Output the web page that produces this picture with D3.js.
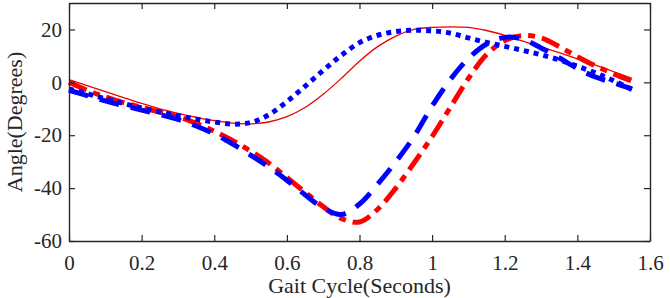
<!DOCTYPE html>
<html>
<head>
<meta charset="utf-8">
<script src="https://cdn.jsdelivr.net/npm/d3@7"></script>
<style>
  html, body { margin: 0; padding: 0; background: #fff; }
  svg { display: block; }
  text { font-family: "Liberation Serif", "Times New Roman", serif; fill: #262626; }
</style>
</head>
<body>
<div id="chart"></div>
<script>
// Gait cycle time (seconds)
const times = [0, 0.05, 0.1, 0.15, 0.2, 0.25, 0.3, 0.35, 0.4, 0.45, 0.5, 0.55, 0.6, 0.65, 0.7, 0.75,
  0.8, 0.85, 0.9, 0.95, 1.0, 1.05, 1.1, 1.15, 1.2, 1.25, 1.3, 1.35, 1.4, 1.45, 1.5, 1.55];

// angles (degrees)
const redSolid = [1, -1.2, -3.5, -5.8, -8, -10, -11.7, -13.2, -14.5, -15.4, -15.7, -15, -13, -9.5, -4.5, 1.5,
  8, 13.5, 17.5, 20, 20.8, 21, 20.8, 19.6, 17.8, 15.6, 13.4, 11.2, 8.9, 6.5, 4, 1.5];
const redDashDot = [0, -3, -5.5, -7.7, -9.5, -11.2, -13, -15.5, -18.5, -22, -26, -30.5, -36, -41.5, -47, -51.5,
  -52.8, -48, -40, -30.5, -20.5, -9.5, 1.5, 10.5, 15.8, 17.7, 16.8, 13.5, 9.7, 6.2, 3.2, 0.5];
const blueDotted = [-2.5, -4.3, -6.2, -8, -9.7, -11.2, -12.6, -13.9, -15, -15.8, -15.2, -12.3, -7.3, -1.5, 4.5, 10.2,
  15, 17.8, 19.2, 19.7, 19.5, 18.6, 16.8, 15.1, 13.6, 12.1, 10.4, 8.5, 6.1, 3.6, 0.6, -2.7];
const blueDashed = [-3, -5, -7, -8.8, -10.5, -12.2, -14, -16.5, -19.5, -23.3, -27.5, -32, -37, -42.5, -47.5, -50,
  -46, -38.5, -30, -20.5, -9, 1, 9, 14.5, 17, 16.3, 13, 9.3, 5.2, 2, -0.2, -2.5];

const xTicks = [0, 0.2, 0.4, 0.6, 0.8, 1, 1.2, 1.4, 1.6];
const yTicks = [-60, -40, -20, 0, 20];

const width = 670, height = 298;
const margin = { top: 3, right: 20, bottom: 57, left: 69 };

const svg = d3.select("#chart").append("svg")
  .attr("width", width)
  .attr("height", height);

const x = d3.scaleLinear().domain([0, 1.6]).range([margin.left, width - margin.right]);
const y = d3.scaleLinear().domain([-60, 30]).range([height - margin.bottom, margin.top]);

// the four curves
const series = [
  { values: redSolid, color: "#f00000", w: 1.3, dash: null },
  { values: redDashDot, color: "#ff0000", w: 5, dash: "19,7,7,7" },
  { values: blueDotted, color: "#0000ff", w: 5, dash: "5,5" },
  { values: blueDashed, color: "#0000ff", w: 5, dash: "20,12" }
];

const line = d3.line()
  .x((d, i) => x(times[i]))
  .y(d => y(d))
  .curve(d3.curveCatmullRom);

svg.append("g")
  .selectAll("path")
  .data(series)
  .enter()
  .append("path")
  .attr("fill", "none")
  .attr("stroke", d => d.color)
  .attr("stroke-width", d => d.w)
  .attr("stroke-dasharray", d => d.dash)
  .attr("d", d => line(d.values));

// axes: box with inward ticks on all sides
const axisColor = "#262626";
const tickLen = 6;
const plain = d => String(d); // keep the ASCII hyphen like the original

const xB = svg.append("g").attr("transform", `translate(0,${y(-60)})`)
  .call(d3.axisBottom(x).tickValues(xTicks).tickSizeInner(-tickLen).tickSizeOuter(0).tickPadding(14)
    .tickFormat(plain));
const xT = svg.append("g").attr("transform", `translate(0,${y(30)})`)
  .call(d3.axisTop(x).tickValues(xTicks).tickSizeInner(-tickLen).tickSizeOuter(0).tickFormat(""));
const yL = svg.append("g").attr("transform", `translate(${x(0)},0)`)
  .call(d3.axisLeft(y).tickValues(yTicks).tickSizeInner(-tickLen).tickSizeOuter(0).tickPadding(7)
    .tickFormat(plain));
const yR = svg.append("g").attr("transform", `translate(${x(1.6)},0)`)
  .call(d3.axisRight(y).tickValues(yTicks).tickSizeInner(-tickLen).tickSizeOuter(0).tickFormat(""));

[xB, xT, yL, yR].forEach(g => {
  g.select(".domain").attr("stroke", axisColor).attr("stroke-width", 1.4);
  g.selectAll(".tick line").attr("stroke", axisColor).attr("stroke-width", 1.2);
  g.selectAll(".tick text").attr("font-size", 21).attr("font-family", "Liberation Serif").attr("fill", axisColor);
});

// axis titles
svg.append("text")
  .attr("x", (x(0) + x(1.6)) / 2)
  .attr("y", 293)
  .attr("text-anchor", "middle")
  .attr("font-size", 22)
  .text("Gait Cycle(Seconds)");

svg.append("text")
  .attr("transform", `translate(22,${(y(-60) + y(30)) / 2}) rotate(-90)`)
  .attr("text-anchor", "middle")
  .attr("font-size", 22)
  .text("Angle(Degrees)");
</script>
</body>
</html>
